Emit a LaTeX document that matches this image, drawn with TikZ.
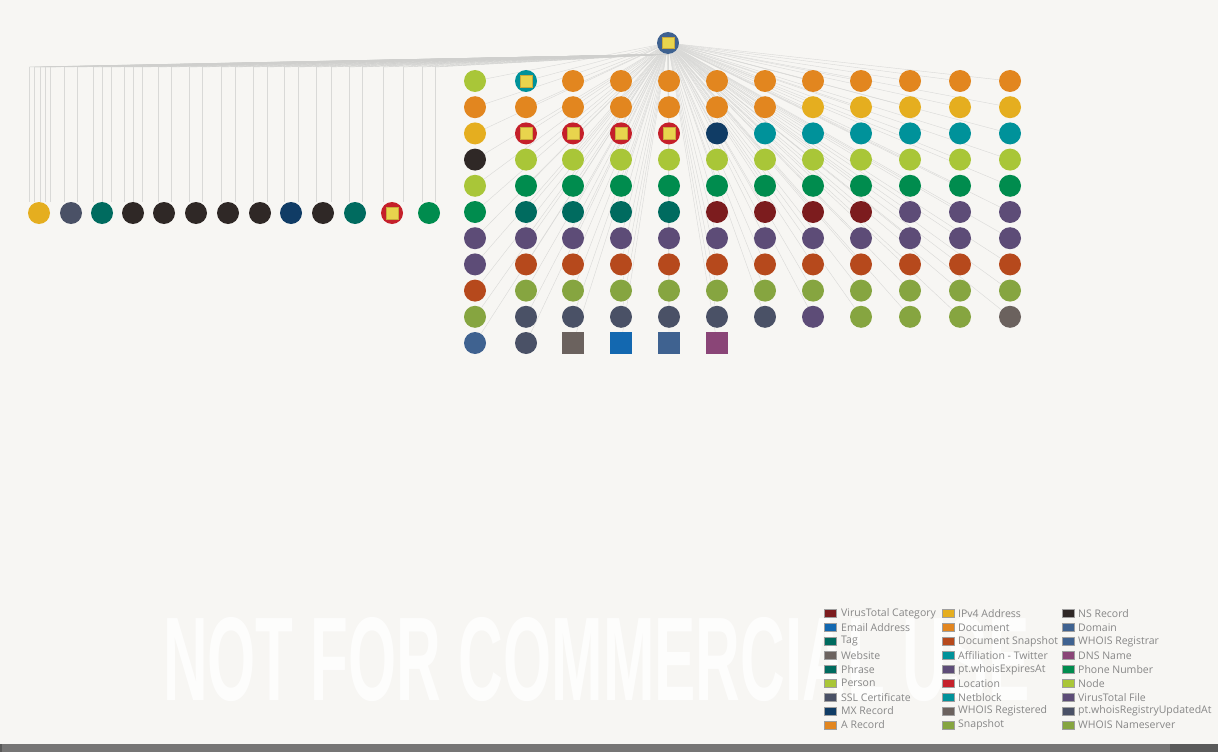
\documentclass[tikz,border=0pt]{standalone}
\usepackage{fontspec}
\setmainfont{Open Sans}
\newfontfamily\wmfont{Liberation Sans}
\usetikzlibrary{positioning}
\pgfdeclarelayer{bg}
\pgfdeclarelayer{edges}
\pgfsetlayers{bg,edges,main}
\definecolor{bgc}{HTML}{F7F6F3}
\definecolor{cVT}{HTML}{7C1C1E}
\definecolor{cEmail}{HTML}{1368B0}
\definecolor{cTag}{HTML}{006B5F}
\definecolor{cWeb}{HTML}{6B625E}
\definecolor{cPerson}{HTML}{A9C638}
\definecolor{cSSL}{HTML}{4A5166}
\definecolor{cMX}{HTML}{103C65}
\definecolor{cA}{HTML}{E2861F}
\definecolor{cIP}{HTML}{E5AE1F}
\definecolor{cDocSnap}{HTML}{B6491C}
\definecolor{cTw}{HTML}{00929A}
\definecolor{cPurple}{HTML}{5D4C77}
\definecolor{cLoc}{HTML}{C5202A}
\definecolor{cSnap}{HTML}{86A540}
\definecolor{cNS}{HTML}{2F2826}
\definecolor{cDom}{HTML}{3F6290}
\definecolor{cDNS}{HTML}{8A4577}
\definecolor{cPhone}{HTML}{008C4E}
\definecolor{mkyellow}{HTML}{E8D44D}
\definecolor{mkedge}{HTML}{C9A93A}
\definecolor{edgec}{HTML}{D9D9D7}
\definecolor{edgel}{HTML}{CFCFCD}
\definecolor{legtext}{HTML}{878787}
\definecolor{barc}{HTML}{767575}
\definecolor{bardark}{HTML}{5A5A5A}
\tikzset{
  nd/.style={circle, minimum size=22pt, inner sep=0pt, draw=none, fill=#1},
  sqn/.style={rectangle, minimum size=22pt, inner sep=0pt, draw=none, fill=#1},
  mk/.style={nd=#1, path picture={\fill[mkyellow, draw=mkedge, line width=0.5pt]
     ([xshift=-5.75pt,yshift=-5.75pt]path picture bounding box.center) rectangle
     ([xshift=5.75pt,yshift=5.75pt]path picture bounding box.center);}},
  edge/.style={draw=edgec, line width=0.4pt},
  ledge/.style={draw=edgel, line width=0.45pt},
  legbox/.style={rectangle, minimum width=12pt, minimum height=8pt, inner sep=0pt,
     draw=gray!75, line width=0.5pt, fill=#1},
  legtxt/.style={anchor=west, inner sep=0pt, text=legtext,
     font=\fontsize{10.5}{12}\selectfont},
}
\begin{document}
\begin{tikzpicture}[x=1pt,y=-1pt]
\begin{pgfonlayer}{bg}
\fill[bgc] (0,0) rectangle (1218,752);
\useasboundingbox (0,0) rectangle (1218,752);
% watermark (faint, behind everything)
\node[anchor=west, inner sep=0pt, text=white, opacity=0.8, xscale=0.52,
  font=\wmfont\bfseries\fontsize{119}{119}\selectfont] (wm) at (163,660) {NOT FOR COMMERCIAL USE};
\end{pgfonlayer}
% bottom bar
\fill[barc] (0,744) rectangle (1170,752);
\fill[bardark] (1170,744) rectangle (1218,752);
\fill[bardark] (0,744) rectangle (2,752);
% top node
\node[mk=cDom] (top) at (668,43) {};
% grid
\foreach \x/\list [count=\ci] in {
 475/{cPerson/nd,cA/nd,cIP/nd,cNS/nd,cPerson/nd,cPhone/nd,cPurple/nd,cPurple/nd,cDocSnap/nd,cSnap/nd,cDom/nd},
 526/{cTw/mk,cA/nd,cLoc/mk,cPerson/nd,cPhone/nd,cTag/nd,cPurple/nd,cDocSnap/nd,cSnap/nd,cSSL/nd,cSSL/nd},
 573/{cA/nd,cA/nd,cLoc/mk,cPerson/nd,cPhone/nd,cTag/nd,cPurple/nd,cDocSnap/nd,cSnap/nd,cSSL/nd,cWeb/sqn},
 621/{cA/nd,cA/nd,cLoc/mk,cPerson/nd,cPhone/nd,cTag/nd,cPurple/nd,cDocSnap/nd,cSnap/nd,cSSL/nd,cEmail/sqn},
 669/{cA/nd,cA/nd,cLoc/mk,cPerson/nd,cPhone/nd,cTag/nd,cPurple/nd,cDocSnap/nd,cSnap/nd,cSSL/nd,cDom/sqn},
 717/{cA/nd,cA/nd,cMX/nd,cPerson/nd,cPhone/nd,cVT/nd,cPurple/nd,cDocSnap/nd,cSnap/nd,cSSL/nd,cDNS/sqn},
 765/{cA/nd,cA/nd,cTw/nd,cPerson/nd,cPhone/nd,cVT/nd,cPurple/nd,cDocSnap/nd,cSnap/nd,cSSL/nd},
 813/{cA/nd,cIP/nd,cTw/nd,cPerson/nd,cPhone/nd,cVT/nd,cPurple/nd,cDocSnap/nd,cSnap/nd,cPurple/nd},
 861/{cA/nd,cIP/nd,cTw/nd,cPerson/nd,cPhone/nd,cVT/nd,cPurple/nd,cDocSnap/nd,cSnap/nd,cSnap/nd},
 910/{cA/nd,cIP/nd,cTw/nd,cPerson/nd,cPhone/nd,cPurple/nd,cPurple/nd,cDocSnap/nd,cSnap/nd,cSnap/nd},
 960/{cA/nd,cIP/nd,cTw/nd,cPerson/nd,cPhone/nd,cPurple/nd,cPurple/nd,cDocSnap/nd,cSnap/nd,cSnap/nd},
 1010/{cA/nd,cIP/nd,cTw/nd,cPerson/nd,cPhone/nd,cPurple/nd,cPurple/nd,cDocSnap/nd,cSnap/nd,cWeb/nd}}
{
  \foreach \c/\k [count=\ri] in \list {
    \pgfmathsetmacro{\yy}{81+(\ri-1)*26.2}
    \node[\k=\c] (g\ci-\ri) at (\x,\yy) {};
    \begin{pgfonlayer}{edges}
      \draw[edge] (top) -- (g\ci-\ri);
    \end{pgfonlayer}
  }
}
% left row
\foreach \x/\c/\k [count=\i] in {39/cIP/nd,71/cSSL/nd,102/cTag/nd,133/cNS/nd,164/cNS/nd,196/cNS/nd,
  228/cNS/nd,260/cNS/nd,291/cMX/nd,323/cNS/nd,355/cTag/nd,392/cLoc/mk,429/cPhone/nd}
{ \node[\k=\c] (l\i) at (\x,213) {}; }
% left edges (bundled)
\begin{pgfonlayer}{edges}
\foreach \x [count=\i] in {29,34,40,45,50,64,77,93,102,111,124,133,142,158,171,189,202,221,235,253,267,284,298,316,331,349,362,383,403,422,435}
{
  \coordinate (h\i) at (\x,67);
  \coordinate (v\i) at (\x,202);
  \draw[ledge] (top.south) -- (h\i);
  \draw[edge] (h\i) -- (v\i);
}
\end{pgfonlayer}
% legend
\foreach \c/\t [count=\i] in {cVT/VirusTotal Category,cEmail/Email Address,cTag/Tag,cWeb/Website,cTag/Phrase,cPerson/Person,cSSL/SSL Certificate,cMX/MX Record,cA/A Record}
{ \node[legbox=\c] (la\i) at (830.5,{613.7+(\i-1)*13.9}) {};
  \node[legtxt] (lta\i) at (841,{613.7+(\i-1)*13.9}) {\t}; }
\foreach \c/\t [count=\i] in {cIP/IPv4 Address,cA/Document,cDocSnap/Document Snapshot,cTw/Affiliation - Twitter,cPurple/pt.whoisExpiresAt,cLoc/Location,cTw/Netblock,cWeb/WHOIS Registered,cSnap/Snapshot}
{ \node[legbox=\c] (lb\i) at (948,{613.7+(\i-1)*13.9}) {};
  \node[legtxt] (ltb\i) at (958,{613.7+(\i-1)*13.9}) {\t}; }
\foreach \c/\t [count=\i] in {cNS/NS Record,cDom/Domain,cDom/WHOIS Registrar,cDNS/DNS Name,cPhone/Phone Number,cPerson/Node,cPurple/VirusTotal File,cSSL/pt.whoisRegistryUpdatedAt,cSnap/WHOIS Nameserver}
{ \node[legbox=\c] (lc\i) at (1068,{613.7+(\i-1)*13.9}) {};
  \node[legtxt] (ltc\i) at (1078,{613.7+(\i-1)*13.9}) {\t}; }
\end{tikzpicture}
\end{document}
